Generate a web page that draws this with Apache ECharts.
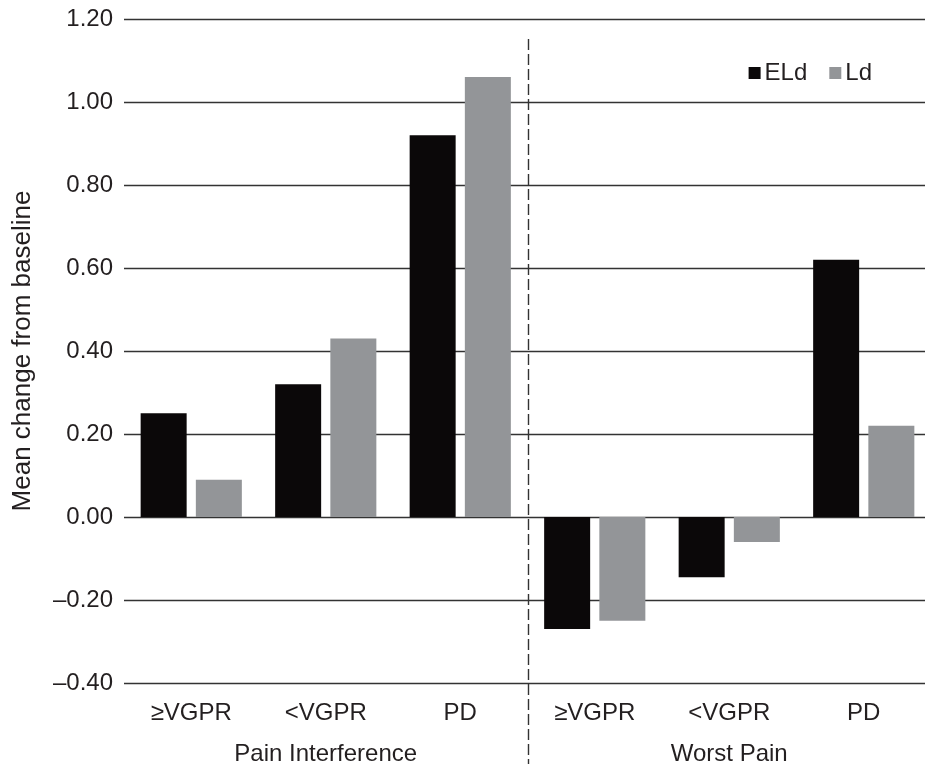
<!DOCTYPE html>
<html>
<head>
<meta charset="utf-8">
<script src="https://cdn.jsdelivr.net/npm/echarts@6/dist/echarts.min.js"></script>
<style>
html,body{margin:0;padding:0;background:#fff;overflow:hidden;width:925px;height:771px;}
#chart{width:931px;height:771px;}
</style>
</head>
<body>
<div id="chart"></div>
<script>
const categories = ['\u2265VGPR', '<VGPR', 'PD', '\u2265VGPR', '<VGPR', 'PD'];
const groups = ['Pain Interference', 'Worst Pain'];
const seriesNames = ['ELd', 'Ld'];
const eldValues = [0.25, 0.32, 0.92, -0.27, -0.145, 0.62];
const ldValues = [0.09, 0.43, 1.06, -0.25, -0.06, 0.22];
const yMin = -0.4, yMax = 1.2, yStep = 0.2;

const FONT = '"Liberation Sans", Arial, Helvetica, sans-serif';
const TXT = '#231f20';

const chart = echarts.init(document.getElementById('chart'), null, {renderer: 'canvas'});
const option = {
  animation: false,
  backgroundColor: '#fff',
  textStyle: {fontFamily: FONT, color: TXT},
  grid: {left: 124, top: 19, right: 0, bottom: 88},
  legend: {
    data: seriesNames,
    right: 54, top: 56,
    itemWidth: 12, itemHeight: 12, itemGap: 22,
    icon: 'rect',
    textStyle: {fontSize: 24, color: TXT, fontFamily: FONT, padding: [0, 0, 0, -1]}
  },
  xAxis: [
    {
      type: 'category', data: categories, position: 'bottom',
      axisLine: {show: false, onZero: false}, axisTick: {show: false},
      axisLabel: {fontSize: 24, color: TXT, fontFamily: FONT, margin: 18, interval: 0},
      splitLine: {show: false}
    },
    {
      type: 'category', data: groups, position: 'bottom',
      axisLine: {show: false, onZero: false}, axisTick: {show: false},
      axisLabel: {fontSize: 24, color: TXT, fontFamily: FONT, margin: 59, interval: 0},
      splitLine: {show: false}
    }
  ],
  yAxis: {
    type: 'value', min: yMin, max: yMax, interval: yStep,
    name: 'Mean change from baseline', nameLocation: 'middle', nameGap: 88,
    nameTextStyle: {fontSize: 26, color: TXT, fontFamily: FONT},
    axisLine: {show: false}, axisTick: {show: false},
    axisLabel: {
      fontSize: 24, color: TXT, fontFamily: FONT, margin: 11,
      formatter: function (v) {
        if (Math.abs(v) < 1e-9) return '0.00';
        return v < 0 ? '\u2013' + Math.abs(v).toFixed(2) : v.toFixed(2);
      }
    },
    splitLine: {show: true, lineStyle: {color: '#333', width: 1.3}}
  },
  series: [
    {name: seriesNames[0], type: 'bar', data: eldValues, barWidth: 46, barGap: '20%',
     itemStyle: {color: '#0b0809'}, xAxisIndex: 0},
    {name: seriesNames[1], type: 'bar', data: ldValues, barWidth: 46, barGap: '20%',
     itemStyle: {color: '#939598'}, xAxisIndex: 0}
  ]
};
chart.setOption(option);

// dashed divider between the two groups
const xa = chart.convertToPixel({xAxisIndex: 0}, 2);
const xb = chart.convertToPixel({xAxisIndex: 0}, 3);
const xd = Math.round((xa + xb) / 2) + 0.5;
chart.setOption({
  graphic: [{
    type: 'line', z: 100,
    shape: {x1: xd, y1: 39, x2: xd, y2: 764},
    style: {stroke: '#333', lineWidth: 1.4, lineDash: [11, 4]}
  }]
});
</script>
</body>
</html>
